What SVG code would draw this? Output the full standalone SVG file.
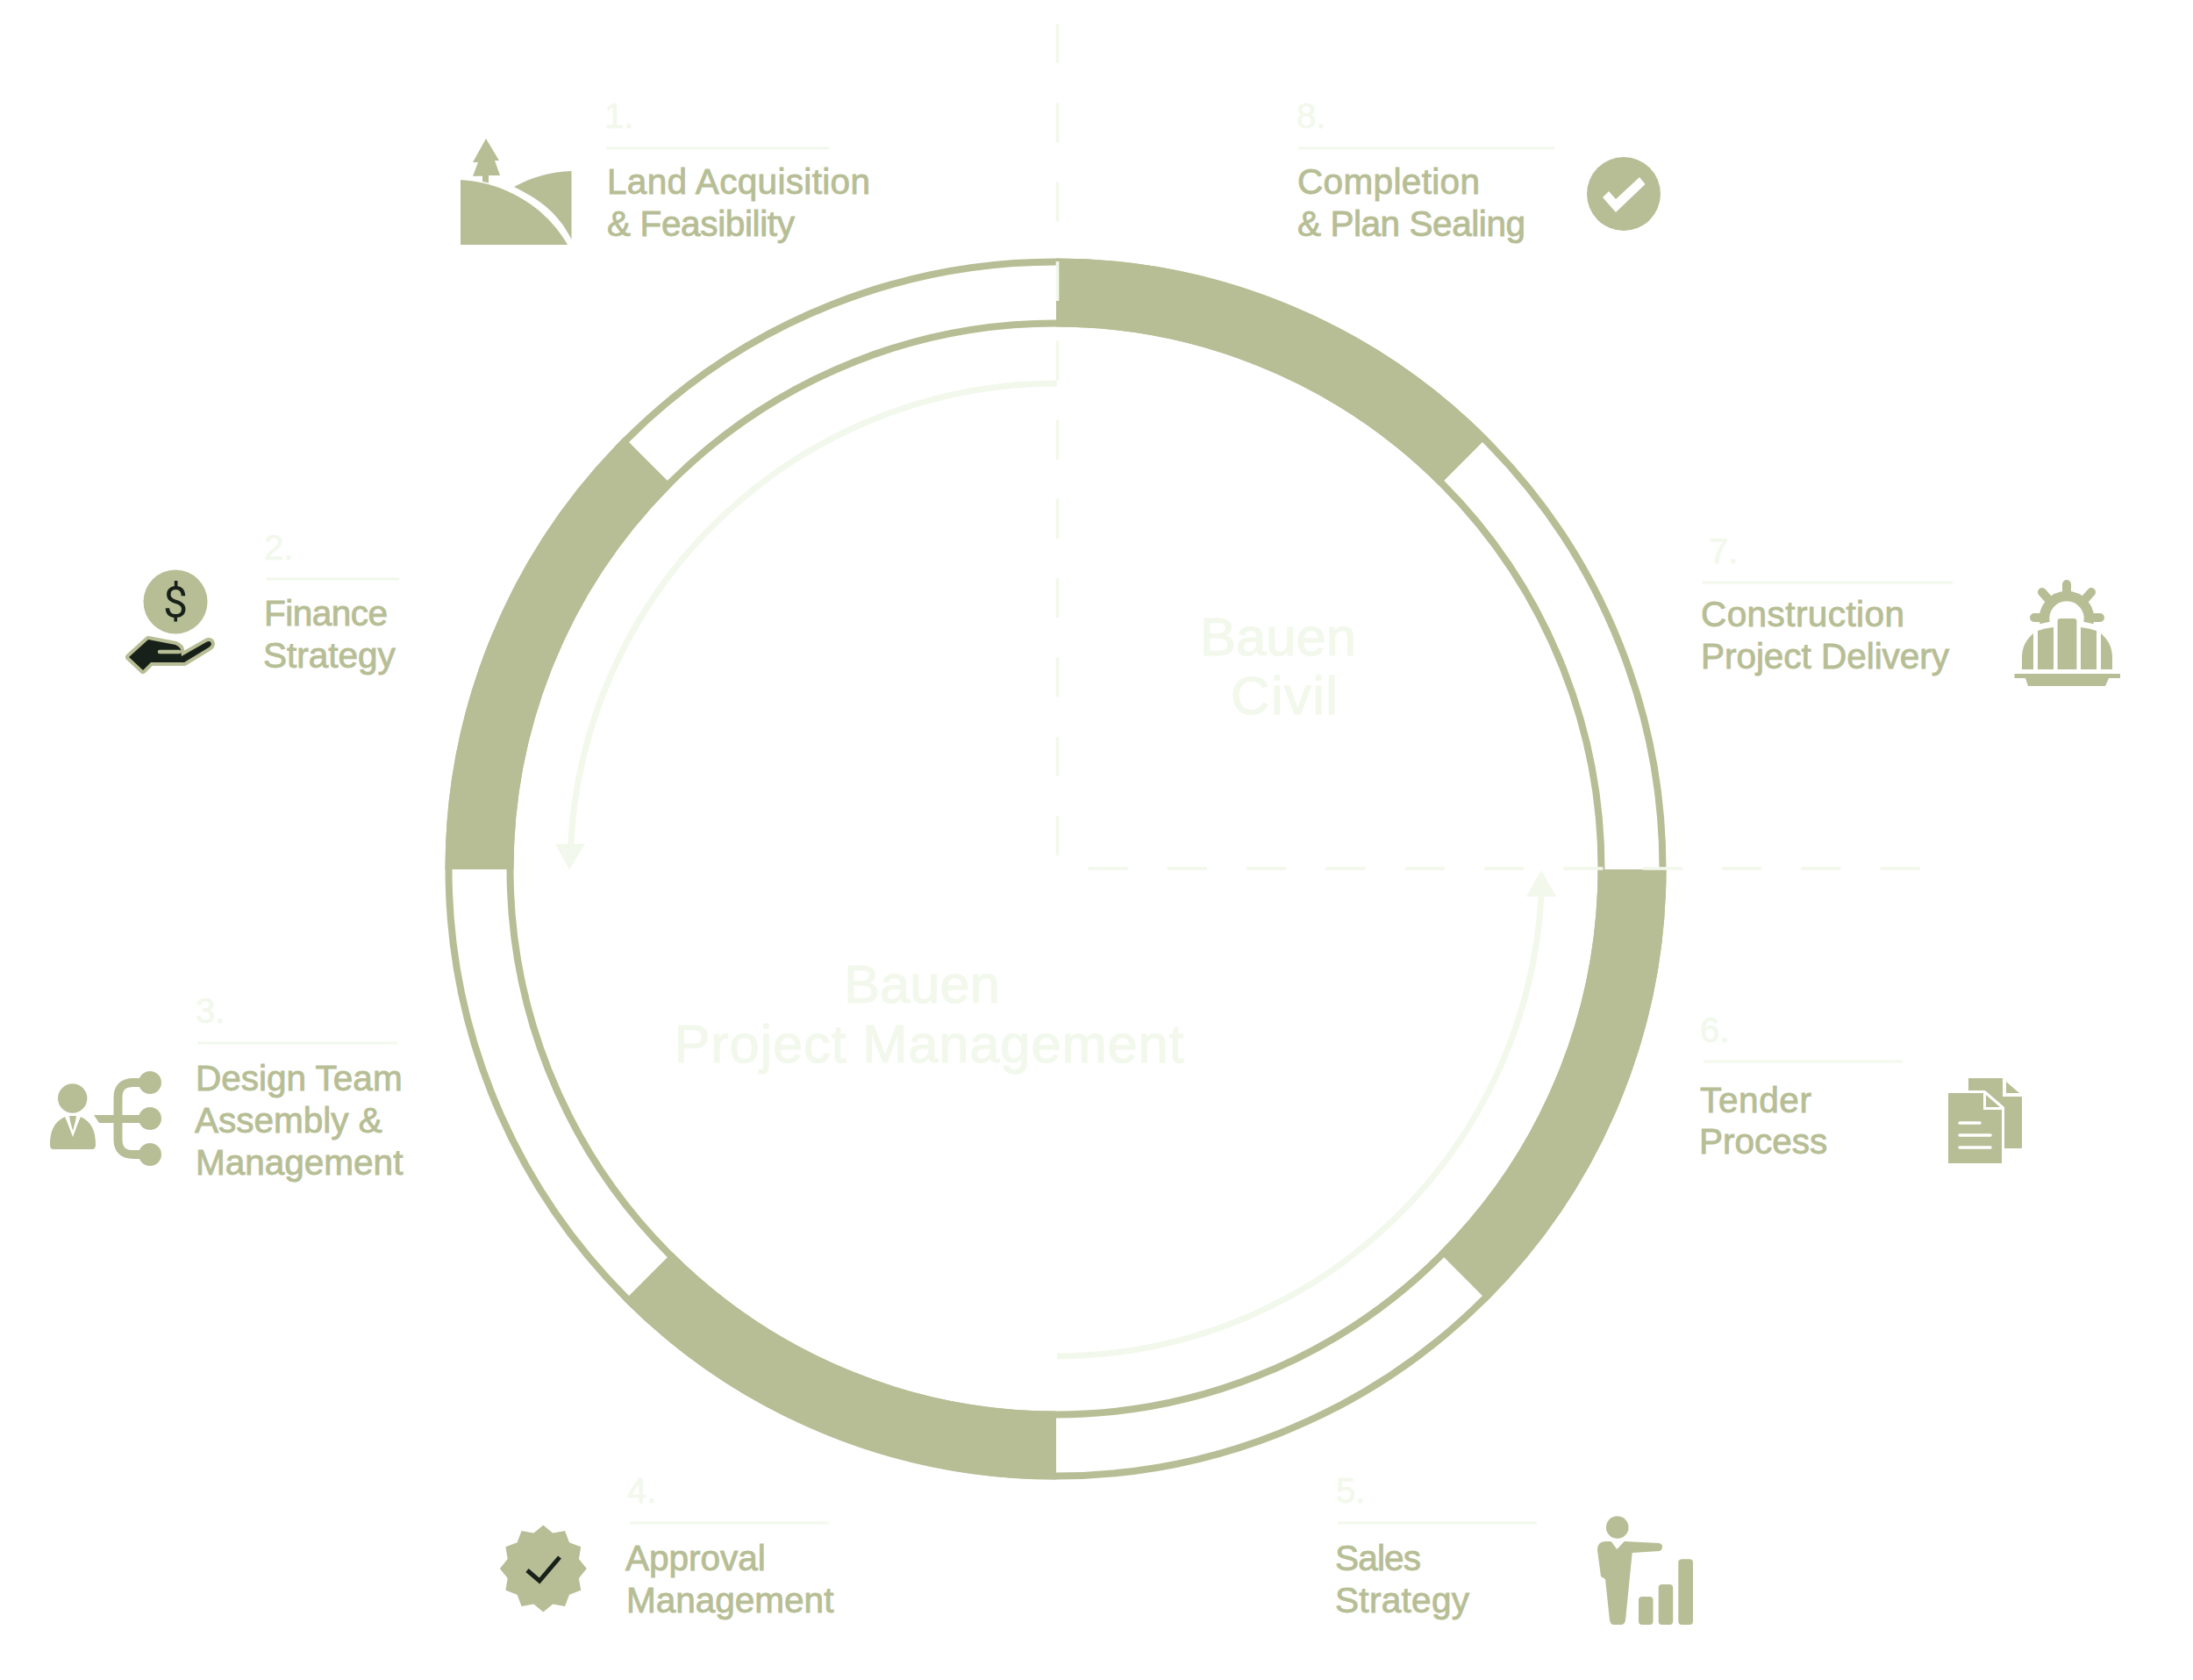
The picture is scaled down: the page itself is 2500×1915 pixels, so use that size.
<svg xmlns="http://www.w3.org/2000/svg" width="2500" height="1915" viewBox="0 0 2500 1915">
<style>
text{font-family:"Liberation Sans",Arial,sans-serif}
.t{font-size:40.5px;fill:#b7be95;stroke:#b7be95;stroke-width:.9}
.n{font-size:40px;fill:#f2f8ec;stroke:#f2f8ec;stroke-width:.7}
.b{font-size:61.5px;fill:#f2f8ec;stroke:#f2f8ec;stroke-width:1.2}
.r{stroke:#f2f8ec;stroke-width:3;fill:none}
.f{fill:#b7be95}
.w{fill:#fff}
.ring{fill:none;stroke:#b7be95;stroke-width:8}
.seg{fill:none;stroke:#b7be95;stroke-width:78}
.dash{fill:none;stroke:#f2f8ec;stroke-width:3.6;stroke-dasharray:45.15 45.15}
.arc{fill:none;stroke:#f2f8ec;stroke-width:7}
.li{fill:#f2f8ec}
</style>
<rect width="2500" height="1915" fill="#fff"/>
<g id="ring">
<circle class="ring" cx="1203.5" cy="990.5" r="692"/>
<circle class="ring" cx="1203.5" cy="990.5" r="622"/>
<path class="seg" d="M1204 333.500A657 657 0 0 1 1668.100 525.900"/>
<path class="seg" d="M1860.500 991A657 657 0 0 1 1668.100 1455.100"/>
<path class="seg" d="M1204 1647.500A657 657 0 0 1 738.900 1455.100"/>
<path class="seg" d="M546.500 991A657 657 0 0 1 738.900 525.900"/>
</g>
<g id="connectors">
<path class="dash" d="M1205.500 27V977"/>
<path class="dash" d="M1240.500 990H2189"/>
<path class="arc" d="M1205 437A555 555 0 0 0 650.500 965"/>
<polygon class="li" points="633,962 667,962 649,991"/>
<path class="arc" d="M1205 1546A554 554 0 0 0 1757 1020"/>
<polygon class="li" points="1740,1022 1774,1022 1757,992"/>
</g>
<g id="node-1">
<path class="f" d="M554 158L569 183H564L570 200H557V208.500L550 207V200.700H539L545 185H539Z"/>
<path class="f" d="M525 205C580 208 625 240 647 279H525Z"/>
<path class="f" d="M586 213Q617 196 651.500 195V273C635 240 612 226 586 213Z"/>
<text class="n" x="689" y="146">1.</text>
<line class="r" x1="691" y1="169" x2="945" y2="169"/>
<text class="t" x="692" y="221" textLength="300">Land Acquisition</text>
<text class="t" x="692" y="269" textLength="214">&amp; Feasibility</text>
</g>
<g id="node-2">
<circle class="f" cx="200" cy="686" r="36.500"/>
<text x="200" y="704" text-anchor="middle" style="font-family:Roboto,sans-serif;font-size:50px;fill:#18201a">$</text>
<path fill="#18201a" stroke="#b7be95" stroke-width="8" stroke-linejoin="round" paint-order="stroke" d="M147 749L169 729L200 735Q207 738 206 743L207 748L235 732Q240 729 241 734Q241 736 238 738L210 755H172L163 764Z"/>
<path fill="none" stroke="#b7be95" stroke-width="4.500" stroke-linecap="round" d="M182 743H204"/>
<text class="n" x="301" y="638">2.</text>
<line class="r" x1="304" y1="660" x2="455" y2="660"/>
<text class="t" x="301" y="713" textLength="141">Finance</text>
<text class="t" x="300" y="761">Strategy</text>
</g>
<g id="node-3">
<circle class="f" cx="82.700" cy="1252" r="16.700"/>
<path class="f" d="M74 1273L83 1292L92 1273C105 1279 109 1290 109 1305Q109 1310 105 1310H61Q57 1310 57 1305C57 1290 61 1279 74 1273Z"/>
<polygon class="w" points="74,1272 92,1272 83,1296"/>
<polygon class="f" points="79,1272 87,1272 86,1278 83,1289 80,1278"/>
<circle class="f" cx="171" cy="1234" r="13"/>
<circle class="f" cx="171" cy="1275" r="13"/>
<circle class="f" cx="171" cy="1316" r="13"/>
<path fill="none" stroke="#b7be95" stroke-width="10" d="M171 1234H152Q134.500 1234 134.500 1251V1299Q134.500 1316 152 1316H171"/>
<polygon class="f" points="107,1271 171,1271 171,1280 113,1280"/>
<text class="n" x="223" y="1166">3.</text>
<line class="r" x1="225" y1="1189" x2="453" y2="1189"/>
<text class="t" x="223" y="1243">Design Team</text>
<text class="t" x="222" y="1290.500">Assembly &amp;</text>
<text class="t" x="223" y="1338.500">Management</text>
</g>
<g id="node-4">
<polygon class="f" points="619.300,1738.500 630.200,1747.400 644,1745.100 649,1758.300 662.200,1763.300 659.900,1777.100 668.800,1788 659.900,1798.900 662.200,1812.750 649,1817.700 644,1830.900 630.200,1828.600 619.300,1837.500 608.400,1828.600 594.550,1830.900 589.600,1817.700 576.400,1812.750 578.700,1798.900 569.800,1788 578.700,1777.100 576.400,1763.300 589.600,1758.300 594.550,1745.100 608.400,1747.400"/>
<path fill="none" stroke="#18201a" stroke-width="5" d="M601 1790L615 1802L638 1775"/>
<text class="n" x="715" y="1713">4.</text>
<line class="r" x1="718" y1="1736" x2="945" y2="1736"/>
<text class="t" x="713" y="1789.500">Approval</text>
<text class="t" x="714" y="1837.500">Management</text>
</g>
<g id="node-5">
<text class="n" x="1523" y="1713">5.</text>
<line class="r" x1="1525" y1="1736" x2="1752" y2="1736"/>
<text class="t" x="1522" y="1789.500" textLength="98">Sales</text>
<text class="t" x="1522" y="1837.500" textLength="153">Strategy</text>
<circle class="f" cx="1843.700" cy="1741" r="12.800"/>
<path class="f" d="M1821 1767Q1821 1757 1830 1757H1836.700L1843.300 1766L1851.700 1757L1891.700 1759Q1895 1760 1895 1763Q1895 1767 1891.700 1768L1860.700 1770L1853 1847Q1852 1852 1848 1852H1840Q1836 1852 1835 1847L1830 1800L1825 1797Z"/>
<rect class="f" x="1868" y="1820" width="16.500" height="32" rx="4"/>
<rect class="f" x="1890.700" y="1806" width="16.500" height="46" rx="4"/>
<rect class="f" x="1913.300" y="1777.300" width="16.700" height="74.700" rx="4"/>
</g>
<g id="node-6">
<text class="n" x="1938" y="1188">6.</text>
<line class="r" x1="1942" y1="1210" x2="2169" y2="1210"/>
<text class="t" x="1938" y="1267.500" textLength="127">Tender</text>
<text class="t" x="1937" y="1315">Process</text>
<polygon class="f" points="2244,1229 2283,1229 2283,1250 2305,1250 2305,1309 2285,1309 2285,1262 2263,1243 2244,1243"/>
<polygon class="f" points="2287,1233 2302,1246 2287,1246"/>
<polygon class="f" points="2221,1246 2261,1246 2261,1265 2282,1265 2282,1326 2221,1326"/>
<polygon class="f" points="2264,1248 2280,1262 2264,1262"/>
<path fill="none" stroke="#fff" stroke-width="3.500" stroke-linecap="round" d="M2234 1280H2257M2234 1294H2269M2234 1308H2269"/>
</g>
<g id="node-7">
<text class="n" x="1948" y="642">7.</text>
<line class="r" x1="1941" y1="664" x2="2226" y2="664"/>
<text class="t" x="1939" y="713.500" textLength="232">Construction</text>
<text class="t" x="1939" y="761.500" textLength="283">Project Delivery</text>
<path fill="none" stroke="#b7be95" stroke-width="11.500" d="M2331 710A25.500 25.500 0 1 1 2381 710"/>
<path fill="none" stroke="#b7be95" stroke-width="10" stroke-linecap="round" d="M2356 678V666M2336 684L2328 675M2376 684L2384 675M2328 704H2319M2384 704H2394"/>
<path class="f" d="M2345.600 708Q2345.600 705 2349 705H2364Q2367.400 705 2367.400 708V763H2345.600Z"/>
<path class="f" d="M2323 719Q2331 716 2341 715V763H2323Z"/>
<path class="f" d="M2372 715Q2381 716 2390 719V763H2372Z"/>
<path class="f" d="M2318 722C2309 730 2305 738 2305 750V763H2318Z"/>
<path class="f" d="M2395 722C2404 730 2408 738 2408 750V763H2395Z"/>
<path class="f" d="M2296.500 768H2417V773H2404L2400 782H2312L2309 773H2296.500Z"/>
</g>
<g id="node-8">
<text class="n" x="1478" y="146">8.</text>
<line class="r" x1="1480" y1="169" x2="1772" y2="169"/>
<text class="t" x="1479" y="221" textLength="208">Completion</text>
<text class="t" x="1479" y="269" textLength="260">&amp; Plan Sealing</text>
<circle class="f" cx="1851" cy="221" r="42"/>
<polygon class="w" points="1827,225 1834,218 1842,227 1869,202 1875.500,210 1842,242"/>
</g>
<g id="centre">
<text class="b" x="1368" y="746.500">Bauen</text>
<text class="b" x="1403" y="814" textLength="122">Civil</text>
<text class="b" x="962" y="1143">Bauen</text>
<text class="b" x="768.500" y="1211" textLength="581">Project Management</text>
</g>
</svg>
